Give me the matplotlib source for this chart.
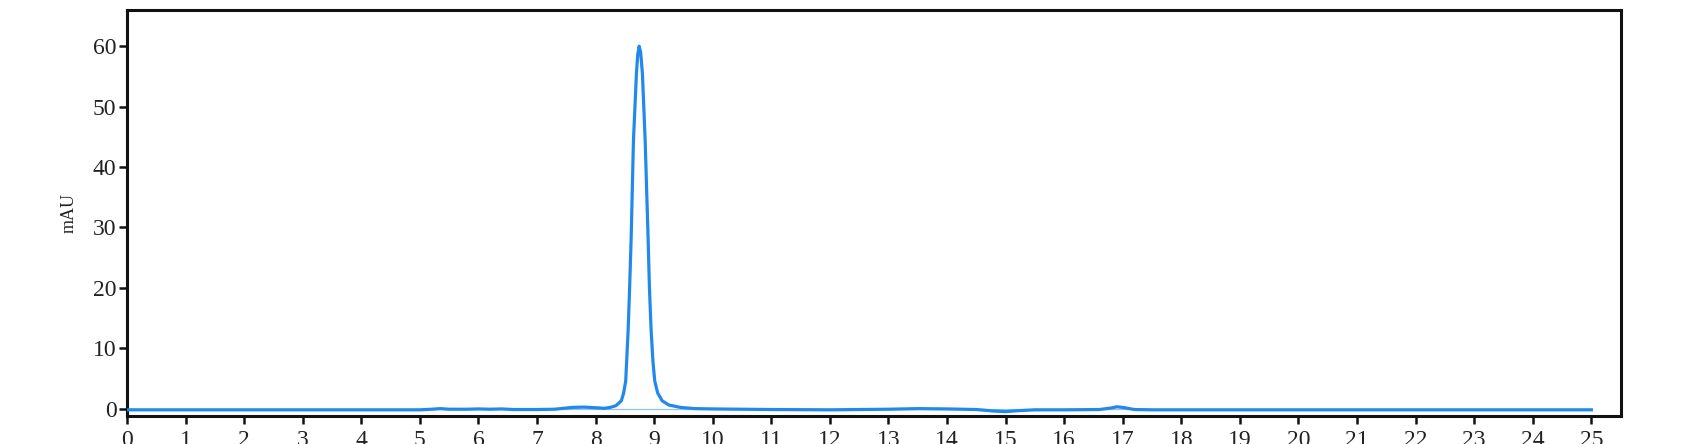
import matplotlib
matplotlib.use("Agg")
import matplotlib.pyplot as plt

# Retention time (min) and absorbance (mAU)
time_min = [0.0, 1.0, 2.0, 3.0, 4.0, 5.0, 5.2, 5.35, 5.5, 5.8, 6.0, 6.2, 6.4, 6.6,
            7.0, 7.3, 7.6, 7.8, 8.0, 8.15, 8.25, 8.35, 8.44, 8.48, 8.515, 8.556,
            8.58, 8.607, 8.647, 8.698, 8.72, 8.744, 8.77, 8.80, 8.847, 8.898,
            8.92, 8.949, 8.98, 9.01, 9.06, 9.137, 9.25, 9.45, 9.7, 10.0, 10.5,
            11.0, 12.0, 13.0, 13.5, 14.0, 14.5, 14.8, 15.0, 15.2, 15.5, 16.0,
            16.6, 16.8, 16.9, 17.0, 17.2, 17.5, 18.0, 19.0, 20.0, 21.0, 22.0,
            23.0, 24.0, 25.0]
signal_mau = [-0.2, -0.2, -0.2, -0.2, -0.2, -0.2, -0.1, 0.0, -0.1, -0.1, -0.05, -0.1, -0.05, -0.15,
              -0.15, -0.1, 0.2, 0.25, 0.15, 0.05, 0.2, 0.5, 1.3, 2.6, 4.6, 12.9,
              19.5, 27.9, 44.4, 55.5, 58.6, 60.0, 59.0, 55.5, 44.4, 27.9,
              20.0, 12.9, 7.8, 4.6, 2.6, 1.3, 0.6, 0.2, 0.0, -0.05, -0.1,
              -0.15, -0.2, -0.1, 0.0, -0.05, -0.15, -0.4, -0.5, -0.35, -0.2, -0.2,
              -0.15, 0.1, 0.3, 0.2, -0.15, -0.2, -0.2, -0.2, -0.2, -0.2, -0.2,
              -0.2, -0.2, -0.2]

x_ticks = list(range(0, 26))
y_ticks = [0, 10, 20, 30, 40, 50, 60]
y_label = "mAU"

plt.rcParams['font.family'] = ['Liberation Serif', 'DejaVu Serif']

fig = plt.figure(figsize=(16.97, 4.44), dpi=100)
ax = fig.add_axes([0.0748, 0.062, 0.8802, 0.9155])

ax.plot([0, 25], [0, 0], color='#8fc3f2', lw=0.9, zorder=2)
ax.plot(time_min, signal_mau, color='#2289ea', lw=2.3, zorder=3,
        solid_joinstyle='round')

ax.set_xlim(0, 25.5)
ax.set_ylim(-1.3, 66)
ax.set_xticks(x_ticks)
ax.set_yticks(y_ticks)
ax.tick_params(axis='both', direction='out', length=6, width=1.8,
               labelsize=17, color='#111111', labelcolor='#222222')
ax.tick_params(axis='y', pad=1.5)
ax.tick_params(axis='x', pad=3.5)
for s in ax.spines.values():
    s.set_linewidth(2.2)
    s.set_color('#111111')
ax.set_ylabel(y_label, fontsize=13, labelpad=11, color='#222222')

fig.savefig("out.png", dpi=100)
